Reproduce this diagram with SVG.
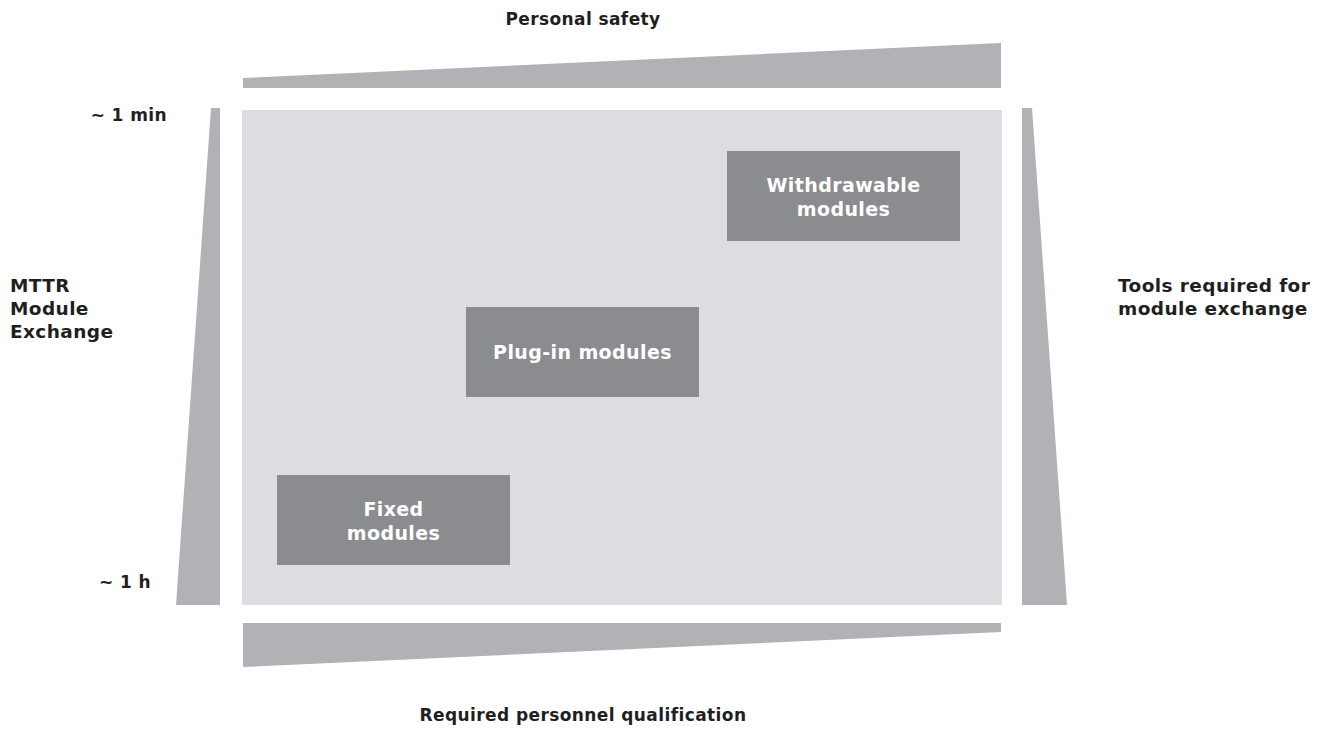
<svg xmlns="http://www.w3.org/2000/svg" width="1330" height="731" viewBox="0 0 1330 731">
  <style>
    .lbl { font-family: "DejaVu Sans", "Liberation Sans", sans-serif; font-weight: 700; font-size: 17px; letter-spacing: 0.4px; fill: #1f1f1f; }
    .side { font-size: 18.5px; }
    .box { fill: #8b8c8f; }
    .boxtxt { font-family: "DejaVu Sans", "Liberation Sans", sans-serif; font-weight: 700; font-size: 19px; letter-spacing: 0.4px; fill: #ffffff; text-anchor: middle; }
    .wedge { fill: #b1b2b5; }
  </style>
  <rect width="1330" height="731" fill="#ffffff"/>

  <!-- field -->
  <rect x="242" y="110" width="760" height="495" fill="#dcdde0"/>

  <!-- wedges along each side -->
  <g id="wedges">
    <polygon class="wedge" points="243,78 1001,43 1001,88 243,88"/>
    <polygon class="wedge" points="243,623 1001,623 1001,632 243,667"/>
    <polygon class="wedge" points="211,108 220,108 220,605 176,605"/>
    <polygon class="wedge" points="1022,108 1032,108 1067,605 1022,605"/>
  </g>

  <!-- axis labels -->
  <text class="lbl" x="583" y="25" text-anchor="middle">Personal safety</text>
  <text class="lbl" x="583" y="721" text-anchor="middle">Required personnel qualification</text>
  <text class="lbl" x="167" y="121" text-anchor="end">~ 1 min</text>
  <text class="lbl" x="151" y="588" text-anchor="end">~ 1 h</text>
  <text class="lbl side" x="10" y="292">MTTR</text>
  <text class="lbl side" x="10" y="315">Module</text>
  <text class="lbl side" x="10" y="338">Exchange</text>
  <text class="lbl side" x="1118" y="292">Tools required for</text>
  <text class="lbl side" x="1118" y="315">module exchange</text>

  <g id="withdrawable">
    <rect class="box" x="727" y="151" width="233" height="90"/>
    <text class="boxtxt" x="843.5" y="192">Withdrawable</text>
    <text class="boxtxt" x="843.5" y="216">modules</text>
  </g>
  <g id="plugin">
    <rect class="box" x="466" y="307" width="233" height="90"/>
    <text class="boxtxt" x="582.5" y="359">Plug-in modules</text>
  </g>
  <g id="fixed">
    <rect class="box" x="277" y="475" width="233" height="90"/>
    <text class="boxtxt" x="393.5" y="516">Fixed</text>
    <text class="boxtxt" x="393.5" y="540">modules</text>
  </g>
  <g id="connectors"/>
</svg>
